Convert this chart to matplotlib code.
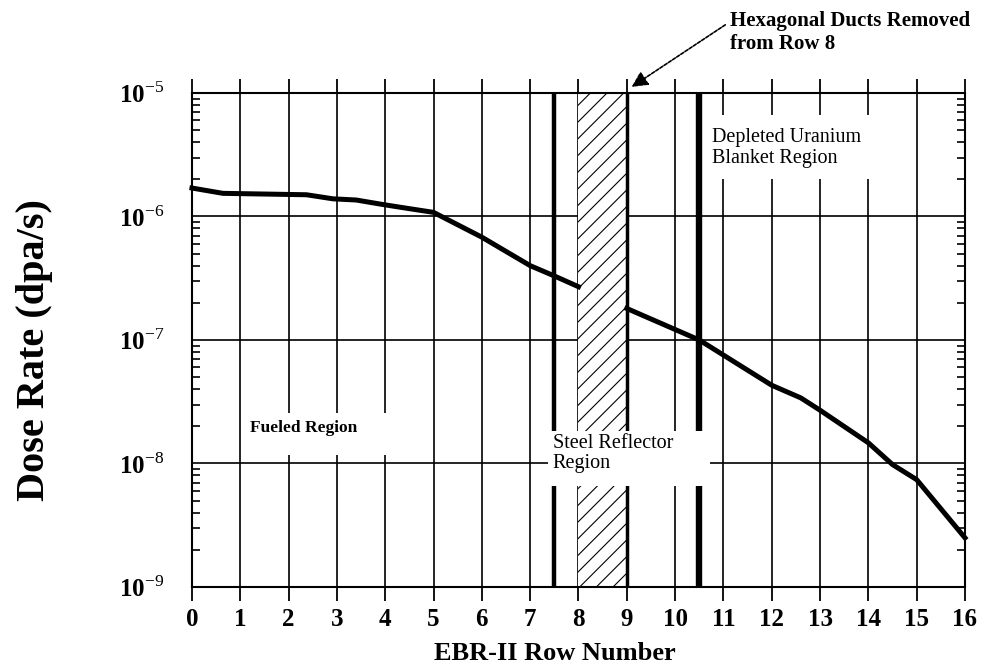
import numpy as np
import matplotlib.pyplot as plt
from matplotlib.patches import Rectangle
from matplotlib.ticker import FixedLocator, LogLocator, NullFormatter

plt.rcParams['font.family'] = 'Liberation Serif'
plt.rcParams['mathtext.fontset'] = 'custom'
plt.rcParams['mathtext.rm'] = 'Liberation Serif'
plt.rcParams['hatch.linewidth'] = 0.8
plt.rcParams['hatch.color'] = 'black'

# dose rate (fueled side, then beyond the steel reflector)
row_a = [0, 0.64, 2.37, 2.92, 3.4, 3.9, 4.3, 5.0, 6.0, 7.0, 7.5, 8.0]
dose_a = [1.7e-6, 1.54e-6, 1.5e-6, 1.39e-6, 1.36e-6, 1.26e-6, 1.19e-6, 1.08e-6, 6.8e-7, 4.0e-7, 3.3e-7, 2.7e-7]
row_b = [9.0, 10.5, 12.0, 12.6, 13.0, 14.0, 14.5, 15.0, 16.0]
dose_b = [1.8e-7, 1.0e-7, 4.3e-8, 3.4e-8, 2.7e-8, 1.47e-8, 9.8e-9, 7.4e-9, 2.5e-9]

x_ticks = list(range(17))
y_ticks = [1e-9, 1e-8, 1e-7, 1e-6, 1e-5]
y_labels = ['10$^{\\mathrm{-9}}$', '10$^{\\mathrm{-8}}$', '10$^{\\mathrm{-7}}$',
            '10$^{\\mathrm{-6}}$', '10$^{\\mathrm{-5}}$']

fig = plt.figure(figsize=(9.87, 6.71), dpi=100)
ax = fig.add_axes([0.1945, 0.1252, 0.7832, 0.7362])
ax.set_yscale('log')
ax.set_xlim(0, 16)
ax.set_ylim(1e-9, 1e-5)

ax.xaxis.set_major_locator(FixedLocator(x_ticks))
ax.set_yticks(y_ticks)
ax.set_yticklabels(y_labels)
ax.yaxis.set_minor_locator(LogLocator(base=10, subs=range(2, 10)))
ax.yaxis.set_minor_formatter(NullFormatter())

ax.grid(True, which='major', color='black', lw=1.2)
ax.set_axisbelow(True)

# steel reflector (row 8) and region boundaries
ax.axvspan(8, 9, facecolor='white', edgecolor='black', hatch='//', lw=0, zorder=1.5)
ax.axvline(9, color='black', lw=2.5, zorder=2)
ax.axvline(7.5, color='black', lw=3.2, zorder=2)
ax.axvline(10.5, color='black', lw=4.6, zorder=2)

# white backgrounds behind the region labels
ax.add_patch(Rectangle((1.1, 1.17e-8), 3.6, 2.56e-8 - 1.17e-8, fc='white', ec='none', zorder=3))
ax.add_patch(Rectangle((7.37, 6.62e-9), 3.35, 1.84e-8 - 6.62e-9, fc='white', ec='none', zorder=3))
ax.add_patch(Rectangle((10.62, 2.0e-6), 4.04, 6.65e-6 - 2.0e-6, fc='white', ec='none', zorder=3))

ax.plot(row_a, dose_a, color='black', lw=3.6, zorder=4, solid_joinstyle='round', clip_on=False)
ax.plot(row_b, dose_b, color='black', lw=3.6, zorder=4, solid_joinstyle='round', clip_on=False)

ax.text(1.2, 1.94e-8, 'Fueled Region', fontsize=12.5, fontweight='bold', va='center', zorder=5)
ax.text(7.47, 1.2e-8, 'Steel Reflector\nRegion', fontsize=14.5, va='center', linespacing=1.1, zorder=5)
ax.text(10.77, 3.6e-6, 'Depleted Uranium\nBlanket Region', fontsize=14.5, va='center', linespacing=1.15, zorder=5)

ax.annotate('Hexagonal Ducts Removed\nfrom Row 8', xy=(9.1, 1.12e-5), xycoords='data',
            xytext=(0.74, 0.952), textcoords='figure fraction', fontsize=15, fontweight='bold',
            ha='left', va='center', linespacing=1.2, annotation_clip=False,
            arrowprops=dict(arrowstyle='-|>', color='black', lw=1.2, ls=(0, (2, 1)),
                            mutation_scale=24, shrinkA=2, shrinkB=0,
                            relpos=(0.0, 0.75)))

ax.tick_params(axis='x', which='major', direction='out', top=True, bottom=True,
               length=10, width=1.3, labelsize=18, pad=5)
ax.tick_params(axis='y', which='major', direction='in', left=True, right=True,
               length=0, pad=20, labelsize=18)
ax.tick_params(axis='y', which='minor', direction='in', left=True, right=True,
               length=6, width=1.2)
for lab in ax.get_xticklabels() + ax.get_yticklabels():
    lab.set_fontweight('bold')
for sp in ax.spines.values():
    sp.set_linewidth(1.5)

fig.text(35 / 987, 1 - 350 / 671, 'Dose Rate (dpa/s)', rotation=90, fontsize=29,
         fontweight='bold', ha='center', va='center')
fig.text(555 / 987, 1 - 653 / 671, 'EBR-II Row Number', fontsize=19,
         fontweight='bold', ha='center', va='center')

fig.savefig('out.png', dpi=100)
